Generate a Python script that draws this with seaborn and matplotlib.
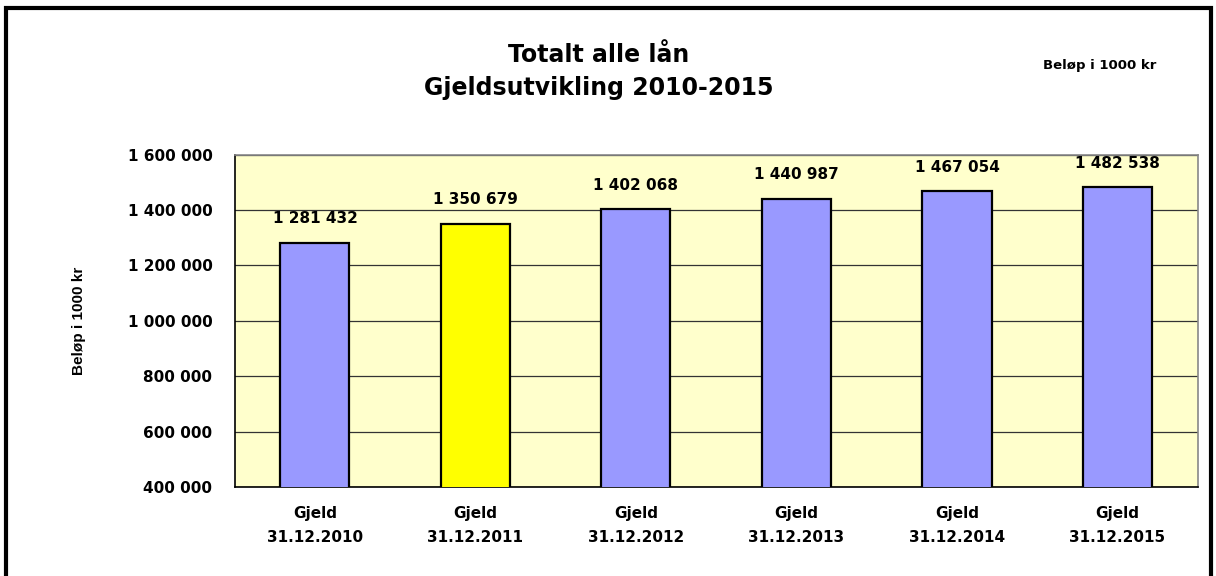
import numpy as np
import pandas as pd
import matplotlib.pyplot as plt
import seaborn as sns
from matplotlib.patches import Rectangle
from matplotlib.ticker import FixedLocator

categories = ['Gjeld\n31.12.2010', 'Gjeld\n31.12.2011', 'Gjeld\n31.12.2012',
              'Gjeld\n31.12.2013', 'Gjeld\n31.12.2014', 'Gjeld\n31.12.2015']
values = [1281432, 1350679, 1402068, 1440987, 1467054, 1482538]
value_labels = ['1 281 432', '1 350 679', '1 402 068', '1 440 987', '1 467 054', '1 482 538']
yticks = [400000, 600000, 800000, 1000000, 1200000, 1400000, 1600000]
ytick_labels = ['400 000', '600 000', '800 000', '1 000 000', '1 200 000', '1 400 000', '1 600 000']
bar_colors = ['#9999FF', '#FFFF00', '#9999FF', '#9999FF', '#9999FF', '#9999FF']

sns.set_style('white')
plt.rcParams['font.family'] = ['DejaVu Sans']
plt.rcParams['font.weight'] = 'bold'
for k in ['text.color', 'axes.labelcolor', 'xtick.color', 'ytick.color']:
    plt.rcParams[k] = 'black'

df = pd.DataFrame({'kat': categories, 'verdi': values})

fig = plt.figure(figsize=(12.16, 5.76), dpi=100)
ax = fig.add_axes([0.193, 0.1545, 0.792, 0.577])

sns.barplot(data=df, x='kat', y='verdi', hue='kat', palette=bar_colors, legend=False,
            saturation=1, width=0.43, edgecolor='black', linewidth=1.6, ax=ax, zorder=3)

ax.set_facecolor('#FFFFCC')
ax.set_ylim(400000, 1600000)
ax.set_xlim(-0.5, 5.5)
ax.set_yticks(yticks)
ax.set_yticklabels(ytick_labels, fontsize=11, fontweight='bold')
ax.yaxis.grid(True, color='#333333', linewidth=0.9, zorder=0)
ax.set_axisbelow(True)

# x ticks sit between categories, labels centered under bars
ax.set_xticks(range(len(categories)))
ax.set_xticklabels(categories, fontsize=11, fontweight='bold', linespacing=1.75)
ax.xaxis.set_minor_locator(FixedLocator(np.arange(-0.5, 6, 1)))
ax.tick_params(axis='x', which='major', length=0, pad=14)
ax.tick_params(axis='x', which='minor', length=6, width=1, color='black', direction='out')
ax.tick_params(axis='y', length=5, width=1, color='black', direction='out', pad=11)

for s in ['top', 'right']:
    ax.spines[s].set_color('#888888')
    ax.spines[s].set_linewidth(1.2)
for s in ['left', 'bottom']:
    ax.spines[s].set_color('black')
    ax.spines[s].set_linewidth(1.2)

for i, (v, lab) in enumerate(zip(values, value_labels)):
    ax.annotate(lab, (i, v), xytext=(0, 12), textcoords='offset points',
                ha='center', va='bottom', fontsize=11, fontweight='bold', zorder=5)

ax.set_xlabel('')
ax.set_ylabel('Beløp i 1000 kr', fontsize=11, fontweight='bold', labelpad=30,
              family=['Liberation Sans', 'DejaVu Sans'])

fig.text(0.492, 0.905, 'Totalt alle lån', ha='center', va='center', fontsize=17, fontweight='bold')
fig.text(0.492, 0.847, 'Gjeldsutvikling 2010-2015', ha='center', va='center', fontsize=17, fontweight='bold')
fig.text(0.904, 0.887, 'Beløp i 1000 kr', ha='center', va='center', fontsize=9.5, fontweight='bold')

fig.patches.append(Rectangle((0.005, -0.02), 0.991, 1.006, transform=fig.transFigure,
                             fill=False, edgecolor='black', linewidth=3))

fig.savefig('out.png', dpi=100)
